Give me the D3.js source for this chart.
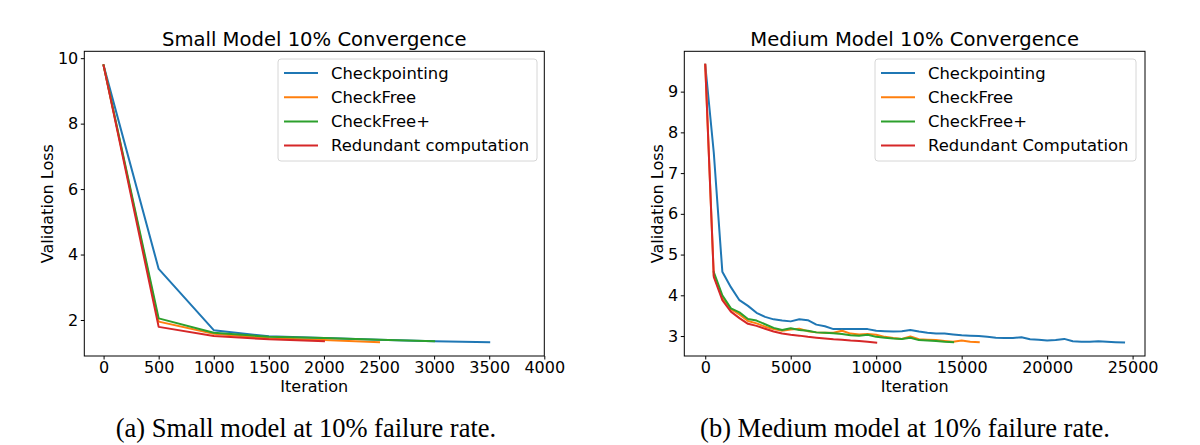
<!DOCTYPE html>
<html>
<head>
<meta charset="utf-8">
<script src="https://cdn.jsdelivr.net/npm/d3@7"></script>
<style>
  body { margin: 0; background: #fff; }
  svg text { font-family: "DejaVu Sans", sans-serif; fill: #000; }
  svg text.caption { font-family: "Liberation Serif", "Times New Roman", serif; }
</style>
</head>
<body>
<div id="chart"></div>
<script>
// series names + colours (matplotlib tab10)
var seriesNames = ["Checkpointing", "CheckFree", "CheckFree+", "Redundant computation"];
var seriesNamesMedium = ["Checkpointing", "CheckFree", "CheckFree+", "Redundant Computation"];
var colors = ["#1f77b4", "#ff7f0e", "#2ca02c", "#d62728"];

// small model: evaluated every 500 iterations
var smallIter = [0, 500, 1000, 1500, 2000, 2500, 3000, 3500];
var smallCheckpointing = [9.78, 3.56, 1.69, 1.50, 1.45, 1.40, 1.35, 1.32];
var smallCheckFree     = [9.78, 1.95, 1.58, 1.44, 1.39, 1.32];
var smallCheckFreePlus = [9.78, 2.05, 1.61, 1.49, 1.45, 1.40, 1.35];
var smallRedundant     = [9.78, 1.79, 1.51, 1.41, 1.35];
var smallXTicks = [0, 500, 1000, 1500, 2000, 2500, 3000, 3500, 4000];
var smallYTicks = [2, 4, 6, 8, 10];

// medium model
var medIter = [0, 500, 1000, 1500, 2000, 2500, 3000, 3500, 4000, 4500,
               5000, 5500, 6000, 6500, 7000, 7500, 8000, 8500, 9000, 9500,
               10000, 10500, 11000, 11500, 12000, 12500, 13000, 13500, 14000, 14500,
               15000, 15500, 16000, 16500, 17000, 17500, 18000, 18500, 19000, 19500,
               20000, 20500, 21000, 21500, 22000, 22500, 23000, 23500, 24000, 24500];
var medCheckpointing = [9.66, 7.50, 4.58, 4.20, 3.88, 3.74, 3.57, 3.47, 3.41, 3.38,
                        3.36, 3.41, 3.39, 3.28, 3.24, 3.17, 3.17, 3.17, 3.17, 3.17,
                        3.13, 3.12, 3.11, 3.12, 3.15, 3.11, 3.08, 3.06, 3.06, 3.04,
                        3.02, 3.01, 3.00, 2.98, 2.96, 2.95, 2.95, 2.97, 2.92, 2.91,
                        2.89, 2.90, 2.93, 2.87, 2.86, 2.86, 2.87, 2.86, 2.85, 2.84];
var medCheckFree = [9.66, 4.48, 3.95, 3.66, 3.53, 3.37, 3.31, 3.23, 3.17, 3.13,
                    3.16, 3.18, 3.12, 3.09, 3.08, 3.08, 3.13, 3.06, 3.04, 3.05,
                    3.03, 2.98, 2.95, 2.93, 2.99, 2.92, 2.91, 2.90, 2.88, 2.86,
                    2.89, 2.86, 2.85];
var medCheckFreePlus = [null, 4.57, 4.00, 3.68, 3.58, 3.42, 3.38, 3.29, 3.20, 3.15,
                        3.19, 3.15, 3.13, 3.09, 3.08, 3.07, 3.05, 3.02, 3.01, 3.03,
                        2.98, 2.96, 2.94, 2.93, 2.96, 2.90, 2.89, 2.88, 2.86, 2.85];
var medRedundant = [9.66, 4.45, 3.88, 3.60, 3.44, 3.30, 3.25, 3.18, 3.11, 3.06,
                    3.03, 3.01, 2.98, 2.96, 2.94, 2.92, 2.91, 2.89, 2.88, 2.86, 2.84];
var medXTicks = [0, 5000, 10000, 15000, 20000, 25000];
var medYTicks = [3, 4, 5, 6, 7, 8, 9];

var svg = d3.select("#chart").append("svg")
            .attr("width", 1200)
            .attr("height", 445);

function drawPanel(p) {
  var x = d3.scaleLinear().domain(p.xDomain).range([p.left, p.right]);
  var y = d3.scaleLinear().domain(p.yDomain).range([p.bottom, p.top]);
  var g = svg.append("g");

  // lines
  var line = d3.line()
               .defined(function(d) { return d[1] != null; })
               .x(function(d) { return x(d[0]); })
               .y(function(d) { return y(d[1]); });
  p.series.forEach(function(s, i) {
    var pts = s.map(function(v, k) { return [p.iter[k], v]; });
    g.append("path")
     .attr("d", line(pts))
     .attr("fill", "none")
     .attr("stroke", colors[i])
     .attr("stroke-width", 2)
     .attr("stroke-linejoin", "round")
     .attr("stroke-linecap", "square");
  });

  // axes
  var xAxis = d3.axisBottom(x).tickValues(p.xTicks).tickFormat(d3.format("d"))
                .tickSizeInner(3.5).tickSizeOuter(0).tickPadding(2.5);
  var yAxis = d3.axisLeft(y).tickValues(p.yTicks).tickFormat(d3.format("d"))
                .tickSizeInner(3.5).tickSizeOuter(0).tickPadding(2.5);
  var gx = g.append("g").attr("transform", "translate(0," + p.bottom + ")").call(xAxis);
  var gy = g.append("g").attr("transform", "translate(" + p.left + ",0)").call(yAxis);
  [gx, gy].forEach(function(a) {
    a.select(".domain").remove();
    a.selectAll("text").attr("font-size", "16px");
    a.selectAll("line").attr("stroke", "#000");
  });

  // frame
  g.append("rect")
   .attr("x", p.left).attr("y", p.top)
   .attr("width", p.right - p.left).attr("height", p.bottom - p.top)
   .attr("fill", "none").attr("stroke", "#000").attr("stroke-width", 1);

  // title + labels
  g.append("text").text(p.title)
   .attr("x", (p.left + p.right) / 2).attr("y", 46)
   .attr("text-anchor", "middle").attr("font-size", "19.6px");
  g.append("text").text("Iteration")
   .attr("x", (p.left + p.right) / 2).attr("y", 392)
   .attr("text-anchor", "middle").attr("font-size", "16px");
  g.append("text").text("Validation Loss")
   .attr("transform", "translate(" + p.ylabelX + "," + (p.top + p.bottom) / 2 + ") rotate(-90)")
   .attr("text-anchor", "middle").attr("dy", "0.35em").attr("font-size", "16px");

  // legend
  var lg = g.append("g");
  lg.append("rect")
    .attr("x", p.legend[0]).attr("y", 59)
    .attr("width", p.legend[1]).attr("height", 102)
    .attr("rx", 3).attr("ry", 3)
    .attr("fill", "#fff").attr("fill-opacity", 0.8)
    .attr("stroke", "#d6d6d6");
  p.names.forEach(function(n, i) {
    var yy = 73 + i * 24.2;
    lg.append("line")
      .attr("x1", p.legend[0] + 6).attr("x2", p.legend[0] + 40)
      .attr("y1", yy).attr("y2", yy)
      .attr("stroke", colors[i]).attr("stroke-width", 2);
    lg.append("text").text(n)
      .attr("x", p.legend[0] + 53).attr("y", yy).attr("dy", "0.35em")
      .attr("font-size", "16.4px");
  });

  // caption
  svg.append("text").attr("class", "caption").text(p.caption)
     .attr("x", p.captionX).attr("y", 437)
     .attr("text-anchor", "middle").attr("font-size", "26.5px");
}

drawPanel({
  title: "Small Model 10% Convergence",
  caption: "(a) Small model at 10% failure rate.",
  captionX: 306,
  left: 84.3, right: 544.3, top: 51.3, bottom: 356,
  xDomain: [-175, 4000], yDomain: [0.9, 10.21],
  xTicks: smallXTicks, yTicks: smallYTicks,
  iter: smallIter,
  series: [smallCheckpointing, smallCheckFree, smallCheckFreePlus, smallRedundant],
  names: seriesNames,
  ylabelX: 47,
  legend: [278, 259]
});

drawPanel({
  title: "Medium Model 10% Convergence",
  caption: "(b) Medium model at 10% failure rate.",
  captionX: 905,
  left: 684.3, right: 1145, top: 51.3, bottom: 356,
  xDomain: [-1225, 25725], yDomain: [2.51, 9.99],
  xTicks: medXTicks, yTicks: medYTicks,
  iter: medIter,
  series: [medCheckpointing, medCheckFree, medCheckFreePlus, medRedundant],
  names: seriesNamesMedium,
  ylabelX: 657,
  legend: [875, 261]
});
</script>
</body>
</html>
